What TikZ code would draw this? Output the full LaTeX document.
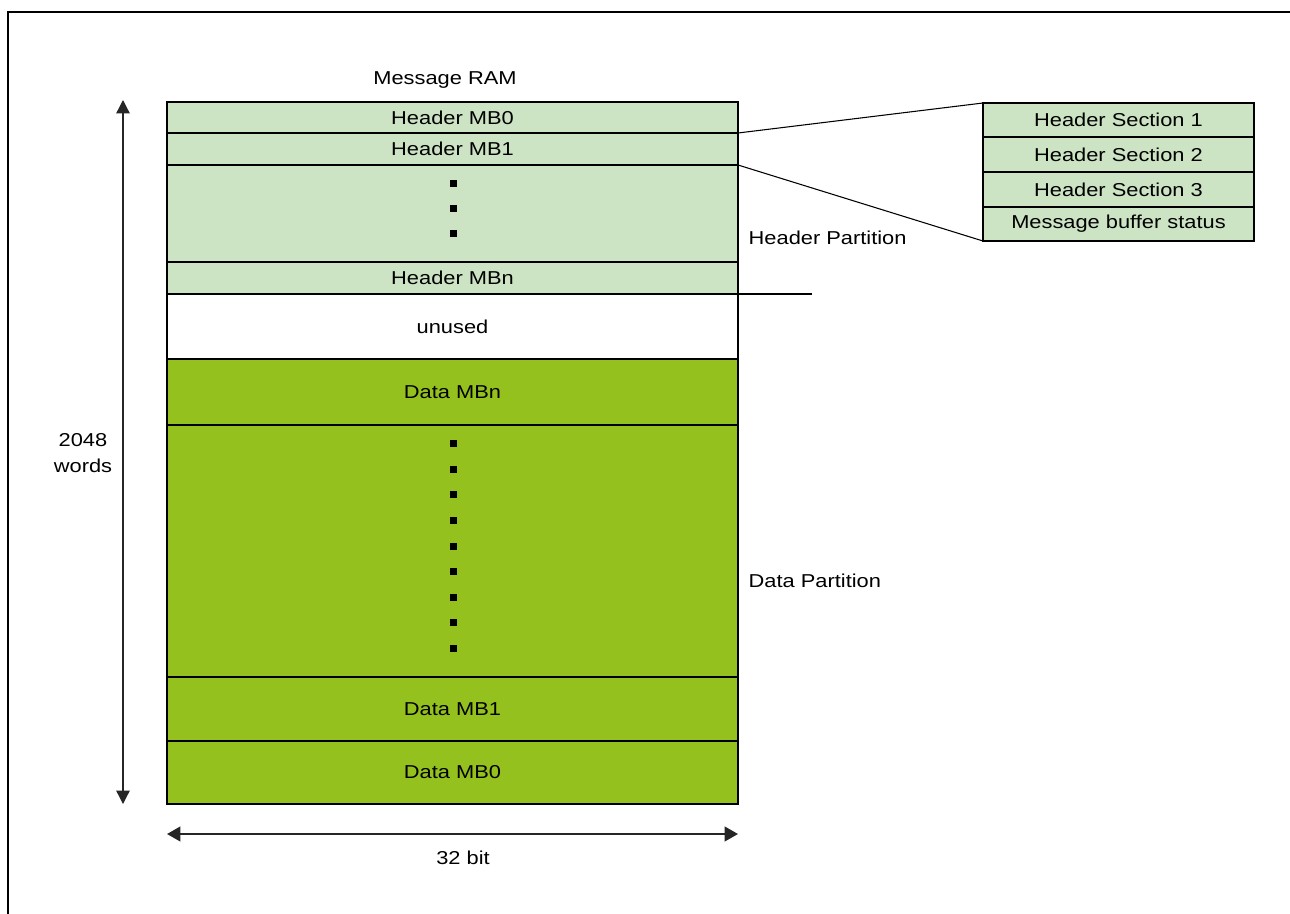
\documentclass[tikz,border=0pt]{standalone}
\usepackage{fontspec}
\setmainfont{Liberation Sans}[FakeStretch=1.17]
\usetikzlibrary{arrows.meta}
\definecolor{hdrgreen}{RGB}{204,228,196}
\definecolor{datagreen}{RGB}{149,193,31}
\begin{document}
\begin{tikzpicture}[x=0.75pt,y=-0.75pt,
  every node/.style={font=\fontsize{14}{19.5}\selectfont},
  rowbox/.style={draw=black,line width=2.2pt,anchor=north west,minimum width=428.25pt,inner sep=0pt,outer sep=0pt},
  hrow/.style={rowbox,fill=hdrgreen},
  drow/.style={rowbox,fill=datagreen},
  urow/.style={rowbox,fill=white},
  secbox/.style={draw=black,line width=2.2pt,fill=hdrgreen,anchor=north west,minimum width=203.25pt,inner sep=0pt,outer sep=0pt},
  dotsq/.style={fill=black,minimum size=5.25pt,inner sep=0pt,outer sep=0pt},
  thinline/.style={draw=black,line width=0.8pt},
  dimarrow/.style={draw=black!85,line width=1.5pt,{Triangle[width=11pt,length=10pt]}-{Triangle[width=11pt,length=10pt]}},
  vdimarrow/.style={draw=black!85,line width=1pt,{Triangle[width=10pt,length=10pt]}-{Triangle[width=10pt,length=10pt]}}
]
\useasboundingbox (0,0) rectangle (1290,914);
% outer frame (top and left)
\draw[line width=2pt] (8,914) -- (8,12) -- (1290,12);

\node[anchor=base] (title) at (445,84) {Message RAM};

% main column
\node[hrow,minimum height=23.25pt] (h0) at (167,102) {Header MB0};
\node[hrow,minimum height=24pt] (h1) at (167,133) {Header MB1};
\node[hrow,minimum height=72.75pt] (hd) at (167,165) {};
\node[hrow,minimum height=24pt] (hn) at (167,262) {Header MBn};
\node[urow,minimum height=48.75pt] (un) at (167,294) {unused};
\node[drow,minimum height=49.5pt] (dn) at (167,359) {Data MBn};
\node[drow,minimum height=189pt] (dd) at (167,425) {};
\node[drow,minimum height=48pt] (d1) at (167,677) {Data MB1};
\node[drow,minimum height=47.25pt] (d0) at (167,741) {Data MB0};

% dots
\foreach \y [count=\i] in {183,208,233} \node[dotsq] (hdot\i) at (453,\y) {};
\foreach \y [count=\i] in {443,469,494,520,546,571,597,622,648} \node[dotsq] (ddot\i) at (453,\y) {};

% header sections
\node[secbox,minimum height=25.5pt] (s1) at (983,103) {Header Section 1};
\node[secbox,minimum height=26.25pt] (s2) at (983,137) {Header Section 2};
\node[secbox,minimum height=26.25pt] (s3) at (983,172) {Header Section 3};
\node[secbox,minimum height=25.5pt] (s4) at (983,207) {Message buffer status};

% connectors
\draw[thinline] (h0.south east) -- (s1.north west);
\draw[thinline] (h1.south east) -- (s4.south west);
\coordinate (pend) at (812,294);
\draw[thinline] (hn.south east) -- (pend);

% partition labels
\node[anchor=west] (hp) at (744,238) {Header Partition};
\node[anchor=west] (dp) at (744,581) {Data Partition};

% dimension arrows
\coordinate (vt) at (123,100);
\coordinate (vb) at (123,804);
\draw[vdimarrow] (vb) -- (vt);
\node[align=center,anchor=base] (words) at (83,472) {2048\\words};

\coordinate (hl) at (167,834);
\coordinate (hr) at (738,834);
\draw[dimarrow] (hl) -- (hr);
\node (bits) at (463,858) {32 bit};
\end{tikzpicture}
\end{document}
